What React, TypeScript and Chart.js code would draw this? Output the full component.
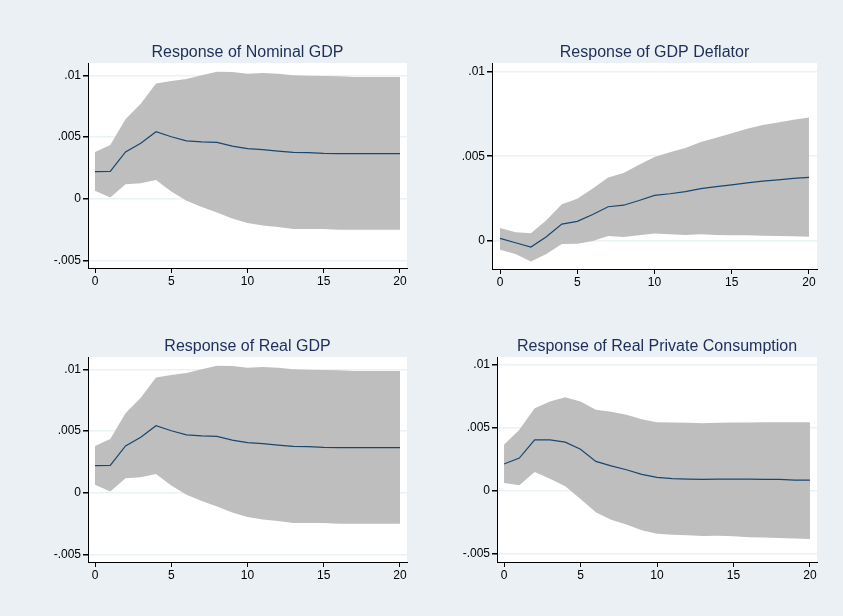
import { useEffect, useRef } from 'react';
import Chart from 'chart.js/auto';

// horizons 0..20
const steps = Array.from({ length: 21 }, (_, i) => i);

// values in thousandths
const nominalMean = [2.2, 2.23, 3.8, 4.5, 5.43, 5.03, 4.7, 4.62, 4.57, 4.27, 4.06, 3.98, 3.87, 3.76, 3.74, 3.68, 3.66, 3.66, 3.66, 3.66, 3.66];
const nominalUpper = [3.8, 4.35, 6.45, 7.7, 9.33, 9.54, 9.7, 10.0, 10.3, 10.27, 10.13, 10.2, 10.13, 10.0, 9.97, 9.95, 9.92, 9.87, 9.87, 9.87, 9.87];
const nominalLower = [0.65, 0.1, 1.18, 1.26, 1.53, 0.59, -0.16, -0.67, -1.1, -1.6, -1.96, -2.15, -2.28, -2.45, -2.45, -2.45, -2.5, -2.5, -2.5, -2.5, -2.5];

const deflatorMean = [0.12, -0.14, -0.4, 0.22, 0.97, 1.13, 1.54, 2.0, 2.09, 2.37, 2.67, 2.77, 2.9, 3.08, 3.2, 3.3, 3.42, 3.52, 3.6, 3.68, 3.74];
const deflatorUpper = [0.73, 0.49, 0.43, 1.2, 2.15, 2.47, 3.08, 3.74, 4.0, 4.49, 4.96, 5.24, 5.49, 5.85, 6.1, 6.36, 6.64, 6.86, 7.0, 7.17, 7.3];
const deflatorLower = [-0.55, -0.81, -1.25, -0.81, -0.22, -0.2, -0.04, 0.26, 0.2, 0.3, 0.41, 0.36, 0.32, 0.36, 0.32, 0.3, 0.3, 0.28, 0.26, 0.24, 0.22];

const realMean = [2.2, 2.23, 3.8, 4.5, 5.43, 5.03, 4.7, 4.62, 4.57, 4.27, 4.06, 3.98, 3.87, 3.76, 3.74, 3.68, 3.66, 3.66, 3.66, 3.66, 3.66];
const realUpper = [3.8, 4.35, 6.45, 7.7, 9.33, 9.54, 9.7, 10.0, 10.3, 10.27, 10.13, 10.2, 10.13, 10.0, 9.97, 9.95, 9.92, 9.87, 9.87, 9.87, 9.87];
const realLower = [0.65, 0.1, 1.18, 1.26, 1.53, 0.59, -0.16, -0.67, -1.1, -1.6, -1.96, -2.15, -2.28, -2.45, -2.45, -2.45, -2.5, -2.5, -2.5, -2.5, -2.5];

const consMean = [2.14, 2.61, 4.06, 4.06, 3.88, 3.32, 2.35, 2.0, 1.69, 1.32, 1.08, 0.98, 0.95, 0.92, 0.95, 0.95, 0.95, 0.92, 0.92, 0.87, 0.87];
const consUpper = [3.67, 4.85, 6.57, 7.1, 7.44, 7.1, 6.44, 6.28, 6.04, 5.7, 5.46, 5.44, 5.41, 5.38, 5.41, 5.44, 5.44, 5.46, 5.46, 5.46, 5.46];
const consLower = [0.63, 0.45, 1.5, 0.98, 0.37, -0.63, -1.69, -2.27, -2.66, -3.11, -3.38, -3.46, -3.51, -3.56, -3.54, -3.59, -3.67, -3.69, -3.72, -3.77, -3.8];

const xTicks = [0, 5, 10, 15, 20];
const yTicksFull = [-5, 0, 5, 10];
const yTicksShort = [0, 5, 10];
const yTickLabels: Record<string, string> = { '-5': '-.005', '0': '0', '5': '.005', '10': '.01' };

const FONT = 'Arial, "Liberation Sans", sans-serif';
const BG = '#eaf0f3';

interface PanelProps {
  title: string;
  mean: number[];
  upper: number[];
  lower: number[];
  yTicks: number[];
  left: number;
  top: number;
  axisX: number;
  plotRight: number;
  plotTop: number;
  plotBottom: number;
  ymin: number;
  ymax: number;
  xmin: number;
  xmax: number;
}

const W = 421;
const H = 300;

function Panel(p: PanelProps) {
  const ref = useRef<HTMLCanvasElement>(null);
  const inst = useRef<Chart | null>(null);

  useEffect(() => {
    if (!ref.current) return;
    if (inst.current) inst.current.destroy();
    const ctx = ref.current.getContext('2d');
    if (!ctx) return;
    const pts = (arr: number[]) => arr.map((v, i) => ({ x: steps[i], y: v }));
    inst.current = new Chart(ctx, {
      type: 'line',
      data: {
        datasets: [
          { data: pts(p.upper), borderWidth: 0, pointRadius: 0, backgroundColor: '#bebebe', fill: '+1', order: 2 },
          { data: pts(p.lower), borderWidth: 0, pointRadius: 0, fill: false, order: 2 },
          { data: pts(p.mean), borderColor: '#1a476f', borderWidth: 1.2, pointRadius: 0, fill: false, order: 1 },
        ],
      },
      options: {
        animation: false,
        responsive: false,
        layout: { padding: { left: 0, right: W - p.plotRight, top: p.plotTop, bottom: 0 } },
        plugins: { legend: { display: false }, tooltip: { enabled: false }, title: { display: false } },
        scales: {
          x: {
            type: 'linear', min: p.xmin, max: p.xmax,
            afterBuildTicks: (s: any) => { s.ticks = xTicks.map((v) => ({ value: v })); },
            afterFit: (s: any) => { s.height = H - p.plotBottom; },
            grid: { display: true, drawOnChartArea: false, tickColor: '#000', tickLength: 5 },
            border: { color: '#000', width: 1 },
            ticks: { color: '#000', font: { family: FONT, size: 12 }, maxRotation: 0, padding: 1 },
          },
          y: {
            min: p.ymin, max: p.ymax,
            afterBuildTicks: (s: any) => { s.ticks = p.yTicks.map((v) => ({ value: v })); },
            afterFit: (s: any) => { s.width = p.axisX; },
            grid: { color: '#eaf2f3', lineWidth: 1.5, tickColor: '#000', tickLength: 5 },
            border: { color: '#000', width: 1 },
            ticks: {
              color: '#000', font: { family: FONT, size: 12 }, padding: 2,
              callback: (v: any) => yTickLabels[String(v)] ?? '',
            },
          },
        },
      },
      plugins: [
        {
          id: 'bgTitle',
          beforeDraw: (c: any) => {
            const a = c.chartArea;
            const g = c.ctx;
            g.save();
            g.fillStyle = BG;
            g.fillRect(0, 0, c.width, c.height);
            g.fillStyle = '#fff';
            g.fillRect(a.left, a.top, a.right - a.left, a.bottom - a.top);
            g.fillStyle = '#1e2d5a';
            g.font = `16px ${FONT}`;
            g.textAlign = 'center';
            g.textBaseline = 'middle';
            g.fillText(p.title, (a.left + a.right) / 2, p.plotTop - 10);
            g.restore();
          },
        },
      ],
    });
    return () => {
      if (inst.current) {
        inst.current.destroy();
        inst.current = null;
      }
    };
  }, []);

  return (
    <canvas ref={ref} width={W} height={H}
      style={{ position: 'absolute', left: p.left, top: p.top, width: W, height: H }} />
  );
}

export default function App() {
  return (
    <div style={{ position: 'fixed', left: 0, top: 0, width: 843, height: 616, background: BG, overflow: 'hidden' }}>
      <Panel title="Response of Nominal GDP" mean={nominalMean} upper={nominalUpper} lower={nominalLower}
        yTicks={yTicksFull} left={0} top={0} axisX={88} plotRight={407} plotTop={63} plotBottom={268}
        ymin={-5.6} ymax={11} xmin={-0.46} xmax={20.46} />
      <Panel title="Response of GDP Deflator" mean={deflatorMean} upper={deflatorUpper} lower={deflatorLower}
        yTicks={yTicksShort} left={421} top={0} axisX={71} plotRight={396} plotTop={63} plotBottom={269}
        ymin={-1.7} ymax={10.54} xmin={-0.52} xmax={20.52} />
      <Panel title="Response of Real GDP" mean={realMean} upper={realUpper} lower={realLower}
        yTicks={yTicksFull} left={0} top={294} axisX={88} plotRight={407} plotTop={63} plotBottom={268}
        ymin={-5.6} ymax={11} xmin={-0.46} xmax={20.46} />
      <Panel title="Response of Real Private Consumption" mean={consMean} upper={consUpper} lower={consLower}
        yTicks={yTicksFull} left={421} top={294} axisX={76} plotRight={396} plotTop={63} plotBottom={268}
        ymin={-5.63} ymax={10.63} xmin={-0.46} xmax={20.46} />
    </div>
  );
}
